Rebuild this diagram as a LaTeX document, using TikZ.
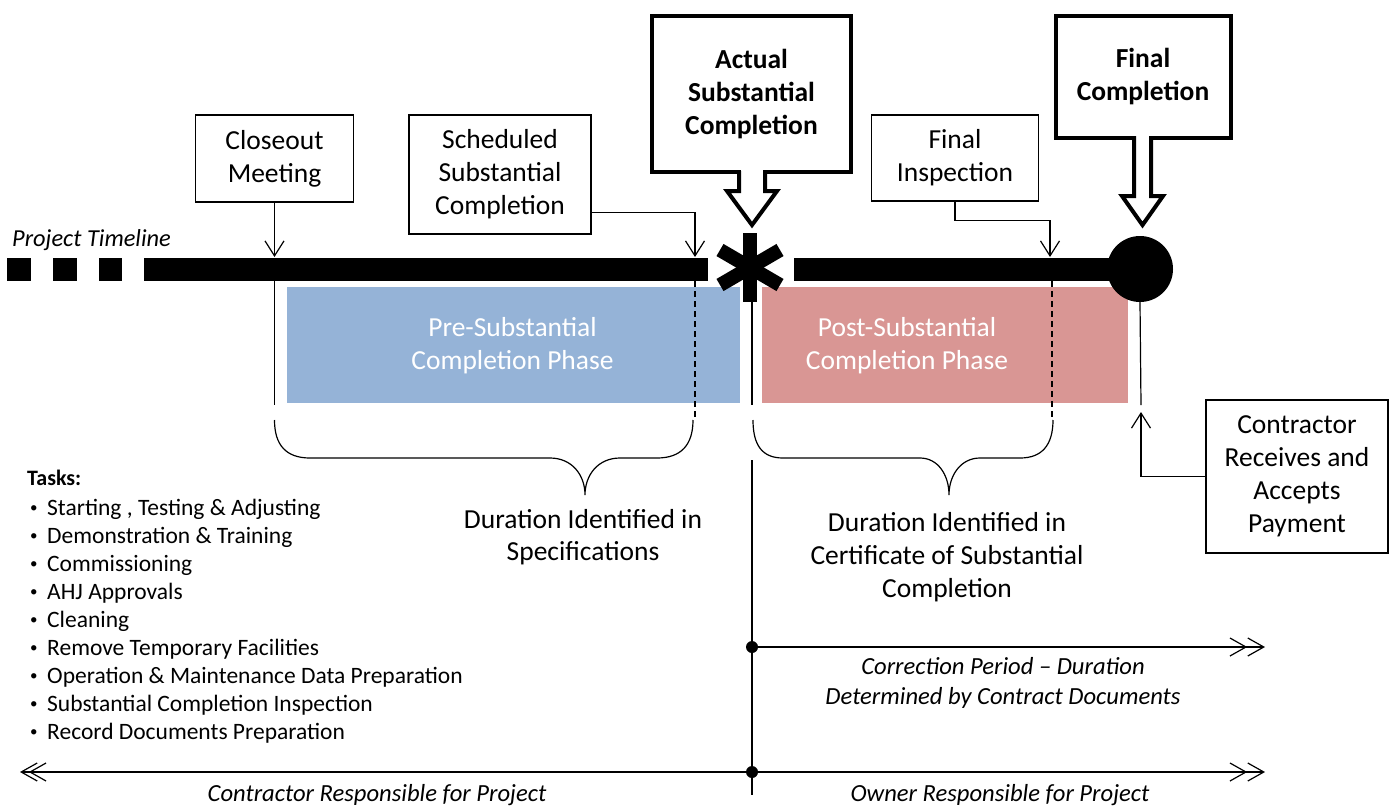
\documentclass[tikz,border=0pt]{standalone}
\usepackage{fontspec}
\setmainfont{Carlito}
\usetikzlibrary{arrows.meta}
\definecolor{phaseblue}{HTML}{95B3D7}
\definecolor{phasered}{HTML}{D99694}
\begin{document}
\begin{tikzpicture}[x=1pt,y=-1pt,
  ln/.style={line width=1.2pt},
  dashln/.style={line width=1.2pt, dash pattern=on 6pt off 4pt},
  box/.style={draw, line width=1.2pt, align=center, inner sep=0pt, font=\fontsize{27.5}{33}\selectfont},
  bigbox/.style={draw, line width=4pt, align=center, inner sep=0pt, font=\bfseries\fontsize{27.5}{33}\selectfont},
  lbl/.style={align=center, inner sep=0pt, font=\fontsize{27.5}{33}\selectfont},
  itl/.style={align=center, inner sep=0pt, font=\itshape\fontsize{24.6}{30}\selectfont},
  phasetext/.style={align=center, inner sep=0pt, text=white, font=\fontsize{27.5}{33}\selectfont},
  barb/.style={-{Straight Barb[length=15pt,width=19pt]}},
  dbl/.style={-{Straight Barb[length=16pt,width=18pt] Straight Barb[length=16pt,width=18pt,sep=-9pt]}},
  dblboth/.style={{Straight Barb[length=16pt,width=18pt] Straight Barb[length=16pt,width=18pt,sep=-9pt]}-{Straight Barb[length=16pt,width=18pt] Straight Barb[length=16pt,width=18pt,sep=-9pt]}},
  dot/.style={circle, fill, inner sep=0pt, minimum size=12pt},
  blockarrow/.style={line width=4pt, line join=miter, fill=white}
]
\useasboundingbox (0,0) rectangle (1390,809);

% phase rectangles
\node[fill=phaseblue, minimum width=453pt, minimum height=116pt, inner sep=0pt] (pre) at (513.5,345) {};
\node[phasetext] (pretxt) at (512.5,346) {Pre-Substantial\\Completion Phase};
\node[fill=phasered, minimum width=366pt, minimum height=116pt, inner sep=0pt] (post) at (945,345) {};
\node[phasetext] (posttxt) at (907,346) {Post-Substantial\\Completion Phase};

% timeline
\node[anchor=west, inner sep=0pt, font=\itshape\fontsize{24.4}{30}\selectfont] (ptl) at (12,240) {Project Timeline};
\fill (7,258) rectangle (31,281);
\fill (53,258) rectangle (77,281);
\fill (99,258) rectangle (122,281);
\fill (144,258) rectangle (708,281);
\fill (794,258) rectangle (1140,281);
\node[circle, fill, minimum size=66pt, inner sep=0pt] (fc) at (1140,269) {};

% asterisk
\draw[line width=14pt] (750,233) -- (750,302);
\draw[line width=14pt] (720,250) -- (780,285);
\draw[line width=14pt] (780,250) -- (720,285);

% boxes
\node[box, minimum width=158pt, minimum height=87pt] (closeout) at (274.5,158.5) {Closeout\\Meeting};
\node[box, minimum width=182pt, minimum height=119pt] (sched) at (500,174.5) {Scheduled\\Substantial\\Completion};
\node[bigbox, minimum width=199pt, minimum height=156pt] (actual) at (751.5,94) {Actual\\Substantial\\Completion};
\node[box, minimum width=167pt, minimum height=86pt] (finsp) at (955,158) {Final\\Inspection};
\node[bigbox, minimum width=175pt, minimum height=122pt] (fcomp) at (1143,76.5) {Final\\Completion};
\node[box, minimum width=182pt, minimum height=153pt] (pay) at (1297,476.5) {Contractor\\Receives and\\Accepts\\Payment};

% block arrows
\fill[white] (741,166) rectangle (763,178);
\draw[blockarrow] (739,171) -- (739,191) -- (727,191) -- (752,225) -- (777,191) -- (765,191) -- (765,171);
\fill[white] (1136,131) rectangle (1149,142);
\draw[blockarrow] (1134,136) -- (1134,196) -- (1122,196) -- (1142.5,225) -- (1163,196) -- (1151,196) -- (1151,136);

% connectors
\coordinate (t1) at (274.5,257);
\coordinate (t2) at (695,257);
\coordinate (t3) at (1050,257);
\coordinate (t4) at (1141,412);
\draw[ln,barb] (closeout.south) -- (t1);
\draw[ln,barb] ([yshift=22pt]sched.south east) -| (t2);
\draw[ln,barb] (finsp.south) -- ++(0,19) -| (t3);
\draw[ln,barb] (pay.west) -| (t4);

% vertical markers
\draw[ln] (274.5,281) -- (274.5,405);
\draw[dashln] (695,281) -- (695,420);
\draw[ln] (752,290) -- (752,405);
\draw[ln] (752,460) -- (752,795);
\draw[dashln] (1052,281) -- (1052,420);
\draw[ln] (fc.south) -- (1141,405);

% braces
\draw[ln] (274.5,420) .. controls (274.5,445) and (286,458) .. (310,458) -- (550,458)
  .. controls (572,458) and (585,475) .. (585,495)
  .. controls (585,475) and (598,458) .. (620,458) -- (657,458)
  .. controls (681,458) and (693,445) .. (693,420);
\draw[ln] (753,420) .. controls (753,445) and (762,458) .. (783,458) -- (920,458)
  .. controls (938,458) and (949,475) .. (949,495)
  .. controls (949,475) and (961,458) .. (980,458) -- (1020,458)
  .. controls (1042,458) and (1053,445) .. (1053,420);

\node[lbl, font=\fontsize{27.5}{32}\selectfont] (dur1) at (583,537) {Duration Identified in\\Specifications};
\node[lbl] (dur2) at (947,557) {Duration Identified in\\Certificate of Substantial\\Completion};

% responsibility arrows
\node[dot] (d1) at (752,647) {};
\node[dot] (d2) at (752,772) {};
\coordinate (e1) at (1256,647);
\coordinate (bl) at (20,772);
\coordinate (br) at (1256,772);
\draw[ln,dbl] (d1.center) -- (e1);
\draw[ln,dblboth] (bl) -- (br);
\node[itl] (corr) at (1003,683) {Correction Period – Duration\\Determined by Contract Documents};
\node[itl] (contr) at (377,795) {Contractor Responsible for Project};
\node[itl] (owner) at (1000,795) {Owner Responsible for Project};

% tasks
\node[anchor=base west, inner sep=0pt, font=\bfseries\fontsize{22}{28}\selectfont] (taskhead) at (27,485) {Tasks:};
\foreach \txt [count=\i from 0] in {{Starting , Testing \& Adjusting}, {Demonstration \& Training}, {Commissioning}, {AHJ Approvals}, {Cleaning}, {Remove Temporary Facilities}, {Operation \& Maintenance Data Preparation}, {Substantial Completion Inspection}, {Record Documents Preparation}}
  \node[anchor=base west, inner sep=0pt, font=\fontsize{23.5}{28}\selectfont] (task\i) at (30,{515+28*\i}) {\makebox[17pt][l]{\raisebox{2.5pt}{\fontsize{15}{15}\selectfont\textbullet}}\txt};
\end{tikzpicture}
\end{document}
